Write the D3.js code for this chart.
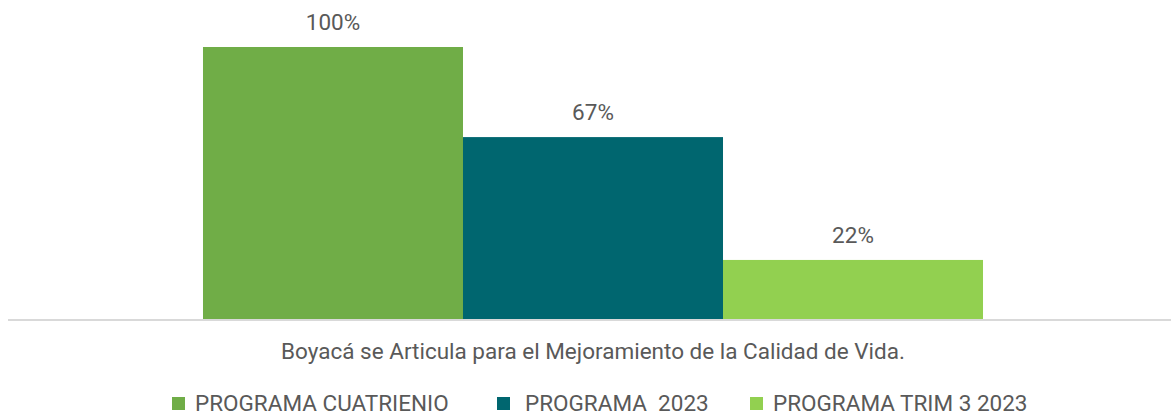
<!DOCTYPE html>
<html>
<head>
<meta charset="utf-8">
<script src="https://cdn.jsdelivr.net/npm/d3@7"></script>
<style>
  html, body { margin: 0; padding: 0; background: #fff; }
  svg { display: block; font-family: "Roboto", sans-serif; }
</style>
</head>
<body>
<div id="chart"></div>
<script>
const categories = ['Boyacá se Articula para el Mejoramiento de la Calidad de Vida.'];
const seriesNames = ['PROGRAMA CUATRIENIO', 'PROGRAMA  2023', 'PROGRAMA TRIM 3 2023'];
const seriesValues = [1.00, 0.67, 0.22];
const seriesColors = ['#70AD47', '#00666F', '#92D050'];

const width = 1171, height = 415;
const margin = { top: 47, right: 0, bottom: 95, left: 15 };
const textColor = '#595959';
const fontSize = 22.5;

const svg = d3.select('#chart').append('svg')
  .attr('width', width)
  .attr('height', height);

const x0 = d3.scaleBand()
  .domain(categories)
  .range([margin.left, width - margin.right])
  .paddingInner(0)
  .paddingOuter(0.241);

const x1 = d3.scaleBand()
  .domain(seriesNames)
  .range([0, x0.bandwidth()]);

const y = d3.scaleLinear()
  .domain([0, 1])
  .range([height - margin.bottom, margin.top]);

const baseY = y(0);

// Bars
const group = svg.append('g')
  .selectAll('g')
  .data(categories)
  .join('g')
  .attr('transform', d => `translate(${x0(d)},0)`);

group.selectAll('rect')
  .data(seriesNames.map((s, i) => ({ s, v: seriesValues[i], c: seriesColors[i] })))
  .join('rect')
  .attr('x', d => x1(d.s))
  .attr('y', d => y(d.v))
  .attr('width', x1.bandwidth())
  .attr('height', d => baseY - y(d.v))
  .attr('fill', d => d.c);

// Value labels
group.selectAll('text')
  .data(seriesNames.map((s, i) => ({ s, v: seriesValues[i] })))
  .join('text')
  .attr('x', d => x1(d.s) + x1.bandwidth() / 2)
  .attr('y', d => y(d.v) - 17)
  .attr('text-anchor', 'middle')
  .attr('font-size', fontSize)
  .attr('fill', textColor)
  .text(d => d3.format('.0%')(d.v));

// Axis
const xAxis = d3.axisBottom(x0).tickSize(0).tickPadding(23);
const axisG = svg.append('g')
  .attr('transform', `translate(0,${baseY})`)
  .call(xAxis);
axisG.select('.domain').remove();
axisG.append('line')
  .attr('x1', 8)
  .attr('x2', width)
  .attr('stroke', '#d9d9d9')
  .attr('stroke-width', 2);
axisG.selectAll('.tick text')
  .attr('font-size', fontSize)
  .attr('fill', textColor)
  .attr('font-family', '"Roboto", sans-serif');

// Legend
const legendX = [172, 497, 750];
const legend = svg.append('g')
  .selectAll('g')
  .data(seriesNames)
  .join('g')
  .attr('transform', (d, i) => `translate(${legendX[i]},${397})`);

legend.append('rect')
  .attr('x', 0)
  .attr('y', 0)
  .attr('width', 13)
  .attr('height', 13)
  .attr('fill', (d, i) => seriesColors[i]);

legend.append('text')
  .attr('x', (d, i) => i === 1 ? 28 : 23)
  .attr('y', 14)
  .attr('font-size', fontSize)
  .attr('fill', textColor)
  .style('white-space', 'pre')
  .text(d => d);
</script>
</body>
</html>
